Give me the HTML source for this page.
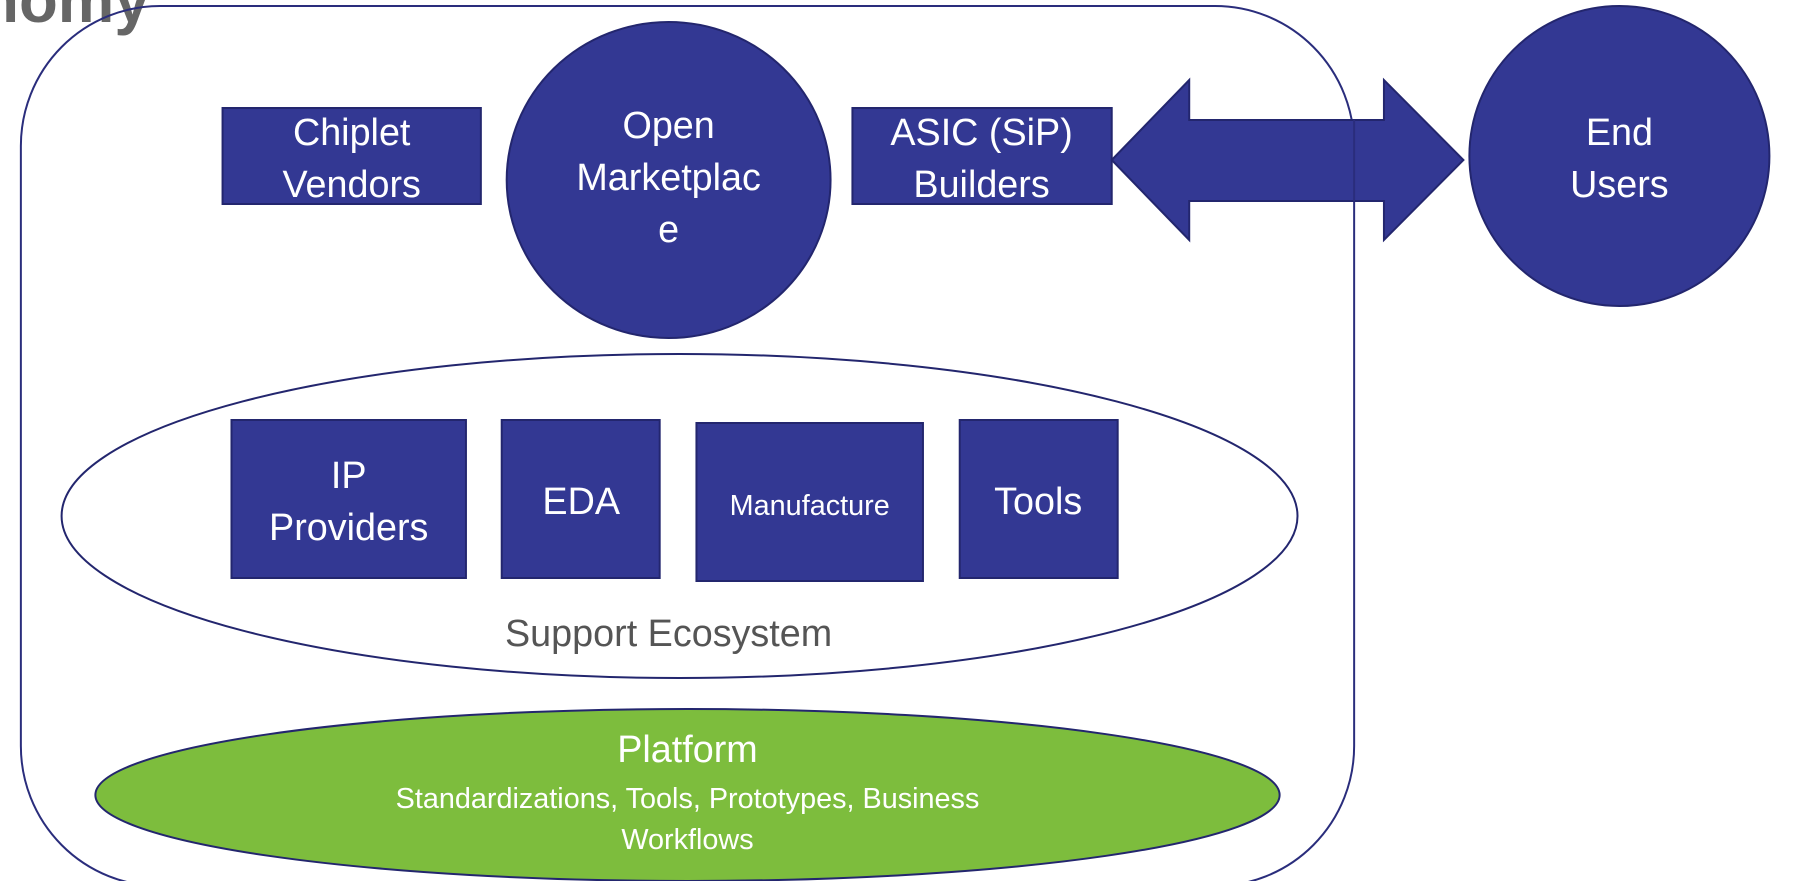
<!DOCTYPE html>
<html><head><meta charset="utf-8"><style>
html,body{margin:0;padding:0;background:#fff;width:1817px;height:881px;overflow:hidden}
svg text{font-family:"Liberation Sans",sans-serif}
</style></head><body>
<svg width="1817" height="881" viewBox="0 0 1817 881" xmlns="http://www.w3.org/2000/svg">
<g transform="scale(0.9935 1)">
<text x="-20" y="22" font-size="64" font-weight="bold" fill="#666">nomy</text>
<rect x="21" y="6" width="1342" height="880" rx="140" ry="140" fill="none" stroke="#2a2d7c" stroke-width="2"/>
<g fill="#333893" stroke="#23266e" stroke-width="2">
<rect x="224" y="108" width="260" height="96"/>
<ellipse cx="673" cy="180" rx="163" ry="158"/>
<rect x="858" y="108" width="261" height="96"/>
<polygon points="1119,160 1197,80 1197,120 1393,120 1393,80 1473,160 1393,240 1393,201 1197,201 1197,240"/>
<ellipse cx="1630" cy="156" rx="151" ry="150"/>
</g>
<line x1="1363" y1="120" x2="1363" y2="201" stroke="#2a2d7c" stroke-width="2"/>
<ellipse cx="684" cy="516" rx="622" ry="162" fill="#fff" stroke="#23266e" stroke-width="2"/>
<g fill="#333893" stroke="#23266e" stroke-width="2">
<rect x="233" y="420" width="236" height="158"/>
<rect x="505" y="420" width="159" height="158"/>
<rect x="701" y="423" width="228" height="158"/>
<rect x="966" y="420" width="159" height="158"/>
</g>
<ellipse cx="692" cy="795" rx="596" ry="86" fill="#7dbd3d" stroke="#23266e" stroke-width="2"/>
<g fill="#fff" font-size="38" text-anchor="middle">
<text x="354" y="145">Chiplet</text><text x="354" y="197">Vendors</text>
<text x="673" y="138">Open</text><text x="673" y="190">Marketplac</text><text x="673" y="242">e</text>
<text x="988" y="145">ASIC (SiP)</text><text x="988" y="197">Builders</text>
<text x="1630" y="145">End</text><text x="1630" y="197">Users</text>
<text x="351" y="488">IP</text><text x="351" y="540">Providers</text>
<text x="585" y="514">EDA</text>
<text x="815" y="515" font-size="29">Manufacture</text>
<text x="1045" y="514">Tools</text>
<text x="692" y="762">Platform</text>
<text x="692" y="808" font-size="29">Standardizations, Tools, Prototypes, Business</text>
<text x="692" y="849" font-size="29">Workflows</text>
</g>
<text x="673" y="646" font-size="38" fill="#555" text-anchor="middle">Support Ecosystem</text>
</g>
</svg>
</body></html>
